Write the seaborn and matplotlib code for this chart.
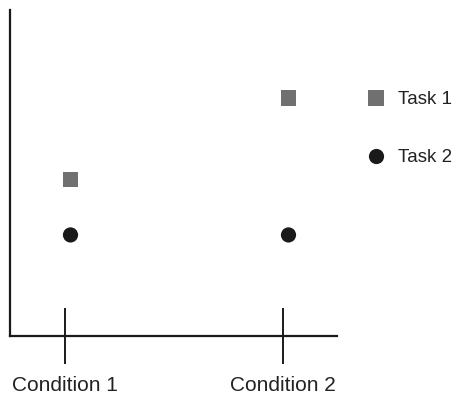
import matplotlib
matplotlib.use("Agg")
import matplotlib.pyplot as plt
import matplotlib.transforms as mtransforms
import seaborn as sns
import pandas as pd

conditions = ["Condition 1", "Condition 2"]
task1 = [4.8, 7.3]
task2 = [3.1, 3.1]
series = ["Task 1", "Task 2"]

df = pd.DataFrame({
    "condition": conditions * 2,
    "value": task1 + task2,
    "task": [series[0]] * 2 + [series[1]] * 2,
})

sns.set_style("white")
plt.rcParams["font.family"] = ["Liberation Sans", "DejaVu Sans"]

fig = plt.figure(figsize=(4.62, 3.97), dpi=100)
ax = fig.add_axes([10 / 462, 61 / 397, 327 / 462, 326 / 397])

palette = {"Task 1": "#707070", "Task 2": "#1a1a1a"}
markers = {"Task 1": "s", "Task 2": "o"}
sns.scatterplot(data=df, x="condition", y="value", hue="task", style="task",
                palette=palette, markers=markers, s=120, linewidth=0,
                ax=ax, legend=True)

offset = mtransforms.ScaledTranslation(6 / 100, 0, fig.dpi_scale_trans)
for coll in ax.collections:
    coll.set_offset_transform(coll.get_offset_transform() + offset)

ax.set_xlim(-0.25, 1.25)
ax.set_ylim(0, 10)
ax.set_yticks([])
ax.set_xticks([0, 1])
ax.set_xticklabels(conditions, fontsize=15, color="#222222")
ax.set_xlabel("")
ax.set_ylabel("")
for side in ["top", "right"]:
    ax.spines[side].set_visible(False)
for side in ["left", "bottom"]:
    ax.spines[side].set_linewidth(1.6)
    ax.spines[side].set_color("#1a1a1a")
ax.tick_params(axis="x", bottom=True, direction="inout", length=40, width=1.4,
               color="#1a1a1a", pad=9)

handles, labels = ax.get_legend_handles_labels()
ax.legend(handles, labels, loc="upper left", bbox_to_anchor=(357 / 462, 1 - 91 / 397),
          bbox_transform=fig.transFigure, frameon=False, fontsize=13.5,
          labelspacing=2.2, handletextpad=0.2, markerscale=1.0,
          borderaxespad=0, borderpad=0)
leg = ax.get_legend()
for t in leg.get_texts():
    t.set_color("#222222")

fig.savefig("out.png", dpi=100)
